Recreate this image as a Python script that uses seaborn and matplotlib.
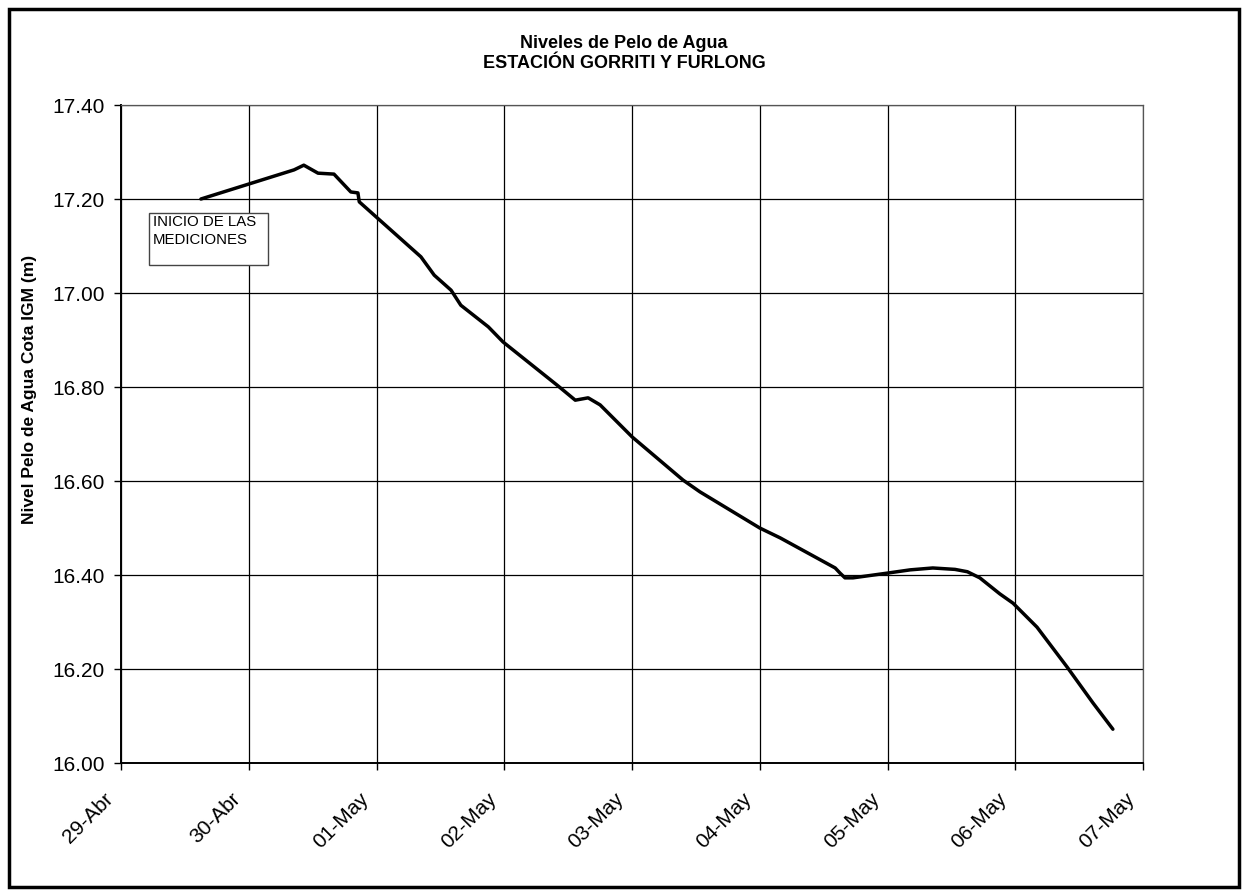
import matplotlib
matplotlib.use("Agg")
import matplotlib.pyplot as plt
import matplotlib.transforms as mtransforms
from matplotlib.patches import Rectangle
import seaborn as sns
import pandas as pd

# water level readings
fechas = [
    "2007-04-29 15:00", "2007-04-30 08:30", "2007-04-30 10:20", "2007-04-30 13:00",
    "2007-04-30 16:00", "2007-04-30 19:10", "2007-04-30 20:30", "2007-04-30 20:45",
    "2007-05-01 08:20", "2007-05-01 10:50", "2007-05-01 14:00", "2007-05-01 15:50",
    "2007-05-01 21:00", "2007-05-01 23:45", "2007-05-02 09:55", "2007-05-02 13:20",
    "2007-05-02 15:45", "2007-05-02 18:00", "2007-05-03 00:00", "2007-05-03 09:35",
    "2007-05-03 12:45", "2007-05-04 00:00", "2007-05-04 03:50", "2007-05-04 14:10",
    "2007-05-04 15:05", "2007-05-04 16:00", "2007-05-04 17:30", "2007-05-04 23:55",
    "2007-05-05 04:15", "2007-05-05 08:30", "2007-05-05 12:40", "2007-05-05 15:00",
    "2007-05-05 17:20", "2007-05-05 21:05", "2007-05-05 23:35",
    "2007-05-06 04:05", "2007-05-06 09:45", "2007-05-06 14:35", "2007-05-06 18:20",
]
niveles = [
    17.200, 17.262, 17.272, 17.255,
    17.253, 17.215, 17.213, 17.194,
    17.077, 17.038, 17.006, 16.974,
    16.928, 16.896, 16.804, 16.772,
    16.777, 16.762, 16.694, 16.602,
    16.577, 16.500, 16.479, 16.415,
    16.404, 16.394, 16.394, 16.404,
    16.411, 16.415, 16.412, 16.407,
    16.394, 16.360, 16.340,
    16.289, 16.204, 16.128, 16.072,
]
dias = ["2007-04-29", "2007-04-30", "2007-05-01", "2007-05-02", "2007-05-03",
        "2007-05-04", "2007-05-05", "2007-05-06", "2007-05-07"]
etiquetas_x = ["29-Abr", "30-Abr", "01-May", "02-May", "03-May",
               "04-May", "05-May", "06-May", "07-May"]
niveles_y = [16.0, 16.2, 16.4, 16.6, 16.8, 17.0, 17.2, 17.4]

df = pd.DataFrame({"fecha": pd.to_datetime(fechas), "nivel": niveles})

sns.set_style("white")
plt.rcParams['font.family'] = ['Liberation Sans', 'DejaVu Sans']
plt.rcParams['text.color'] = 'black'
plt.rcParams['xtick.color'] = 'black'
plt.rcParams['ytick.color'] = 'black'
plt.rcParams['axes.labelcolor'] = 'black'

fig = plt.figure(figsize=(12.48, 8.96), dpi=100)
ax = fig.add_axes([0.097, 0.1484, 0.8189, 0.7344])

sns.lineplot(data=df, x="fecha", y="nivel", ax=ax, color="black", linewidth=2.5)

ticks_x = pd.to_datetime(dias)
ax.set_xlim(ticks_x[0], ticks_x[-1])
ax.set_xticks(ticks_x)
ax.set_xticklabels(etiquetas_x, rotation=45, ha="right", va="center",
                   rotation_mode="anchor", fontsize=15)

ax.set_ylim(16.0, 17.4)
ax.set_yticks(niveles_y)
ax.set_yticklabels([f"{v:.2f}" for v in niveles_y], fontsize=15)

ax.grid(True, color="black", linewidth=0.9)
ax.tick_params(axis="both", direction="out", length=5, width=1, color="black",
               bottom=True, left=True)
ax.tick_params(axis="y", pad=7)
ax.tick_params(axis="x", pad=19)
for lado in ["top", "right"]:
    ax.spines[lado].set_color("#555555")
    ax.spines[lado].set_linewidth(0.9)
for lado in ["left", "bottom"]:
    ax.spines[lado].set_color("black")
    ax.spines[lado].set_linewidth(1.4)

# nudge the rotated date labels a little to the left
desplaza = mtransforms.ScaledTranslation(-11 / 100, 0, fig.dpi_scale_trans)
for tick in ax.xaxis.get_major_ticks():
    tick.label1.set_transform(tick.label1.get_transform() + desplaza)

ax.set_xlabel("")
ax.set_ylabel("Nivel Pelo de Agua Cota IGM (m)", fontsize=12.5, fontweight="bold")
ax.yaxis.set_label_coords(-0.082, 0.568)

fig.text(0.5, 0.9405, "Niveles de Pelo de Agua\nESTACIÓN GORRITI Y FURLONG",
         ha="center", va="center", fontsize=13, fontweight="bold", linespacing=1.25)

# annotation box
ax.add_patch(Rectangle((0.0274, 0.757), 0.1164, 0.079, transform=ax.transAxes,
                       facecolor="white", edgecolor="#444444", linewidth=1, zorder=3))
ax.text(0.031, 0.833, "INICIO DE LAS\nMEDICIONES", transform=ax.transAxes,
        ha="left", va="top", fontsize=10.8, linespacing=1.4, zorder=4)

fig.patches.append(Rectangle((0.0075, 0.0095), 0.985, 0.981, transform=fig.transFigure,
                             fill=False, edgecolor="black", linewidth=2.5))

fig.savefig("out.png", dpi=100)
